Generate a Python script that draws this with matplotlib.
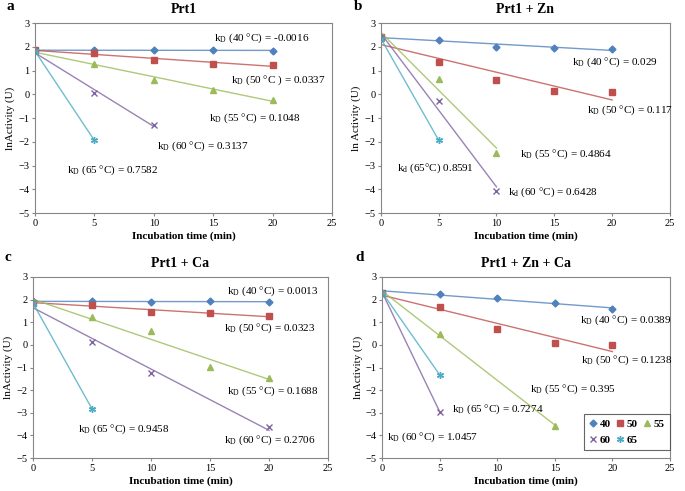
import numpy as np
import matplotlib.pyplot as plt

plt.rcParams['font.family'] = ['Liberation Serif', 'DejaVu Serif']
plt.rcParams['mathtext.fontset'] = 'custom'
plt.rcParams['mathtext.rm'] = 'Liberation Serif'
plt.rcParams['mathtext.it'] = 'Liberation Serif:italic'

temps = ['40', '50', '55', '60', '65']
colors = ['#4F81BD', '#C0504D', '#9BBB59', '#8064A2', '#4BACC6']
markers = ['D', 's', '^', 'x', (6, 2, 0)]
msizes = [3.5, 5, 4.5, 5, 5]

# panel a: Prt1
a_x = [[0, 5, 10, 15, 20], [0, 5, 10, 15, 20], [0, 5, 10, 15, 20], [0, 5, 10], [0, 5]]
a_y = [[1.85, 1.86, 1.86, 1.86, 1.84],
       [1.85, 1.75, 1.45, 1.27, 1.25],
       [1.82, 1.28, 0.62, 0.19, -0.22],
       [1.82, 0.05, -1.28],
       [1.82, -1.94]]
a_txt = ['k$_\\mathrm{D}$ (40 °C) = -0.0016', 'k$_\\mathrm{D}$ (50 °C ) = 0.0337',
         'k$_\\mathrm{D}$ (55 °C) = 0.1048', 'k$_\\mathrm{D}$ (60 °C) = 0.3137',
         'k$_\\mathrm{D}$ (65 °C) = 0.7582']
a_pos = [(15.1, 2.38), (16.5, 0.58), (14.6, -0.99), (10.3, -2.2), (2.7, -3.18)]

# panel b: Prt1 + Zn
b_x = [[0, 5, 10, 15, 20], [0, 5, 10, 15, 20], [0, 5, 10], [0, 5, 10], [0, 5]]
b_y = [[2.41, 2.30, 2.01, 1.97, 1.90],
       [2.41, 1.37, 0.61, 0.16, 0.10],
       [2.38, 0.63, -2.49],
       [2.38, -0.30, -4.08],
       [2.35, -1.93]]
b_txt = ['k$_\\mathrm{D}$ (40 °C) = 0.029', 'k$_\\mathrm{D}$ (50 °C) = 0.117',
         'k$_\\mathrm{D}$ (55 °C) = 0.4864', 'k$_\\mathrm{d}$ (60 °C) = 0.6428',
         'k$_\\mathrm{d}$ (65°C) 0.8591']
b_pos = [(16.5, 1.37), (17.8, -0.66), (12.0, -2.52), (11.0, -4.11), (1.36, -3.13)]

# panel c: Prt1 + Ca
c_x = [[0, 5, 10, 15, 20], [0, 5, 10, 15, 20], [0, 5, 10, 15, 20], [0, 5, 10, 20], [0, 5]]
c_y = [[1.92, 1.92, 1.91, 1.92, 1.90],
       [1.87, 1.78, 1.44, 1.40, 1.28],
       [1.85, 1.21, 0.62, -0.98, -1.48],
       [1.85, 0.14, -1.26, -3.64],
       [1.85, -2.82]]
c_txt = ['k$_\\mathrm{D}$ (40 °C) = 0.0013', 'k$_\\mathrm{D}$ (50 °C) = 0.0323',
         'k$_\\mathrm{D}$ (55 °C) = 0.1688', 'k$_\\mathrm{D}$ (60 °C) = 0.2706',
         'k$_\\mathrm{D}$ (65 °C) = 0.9458']
c_pos = [(16.4, 2.37), (16.2, 0.72), (16.4, -2.07), (16.2, -4.2), (3.8, -3.73)]

# panel d: Prt1 + Zn + Ca
d_x = [[0, 5, 10, 15, 20], [0, 5, 10, 15, 20], [0, 5, 15], [0, 5], [0, 5]]
d_y = [[2.31, 2.26, 2.07, 1.83, 1.58],
       [2.31, 1.65, 0.71, 0.09, -0.02],
       [2.31, 0.50, -3.57],
       [2.31, -2.96],
       [2.31, -1.33]]
d_txt = ['k$_\\mathrm{D}$ (40 °C) = 0.0389', 'k$_\\mathrm{D}$ (50 °C) = 0.1238',
         'k$_\\mathrm{D}$ (55 °C) = 0.395', 'k$_\\mathrm{D}$ (60 °C) = 1.0457',
         'k$_\\mathrm{D}$ (65 °C) = 0.7274']
d_pos = [(17.2, 1.08), (17.3, -0.68), (12.8, -1.97), (0.43, -4.08), (6.07, -2.86)]

panels = [
    ('a', 'Prt1', 'lnActivity (U)', a_x, a_y, a_txt, a_pos, [0.051, 0.566, 0.434, 0.387], 1.055),
    ('b', 'Prt1 + Zn', 'ln Activity (U)', b_x, b_y, b_txt, b_pos, [0.556, 0.566, 0.422, 0.387], 1.055),
    ('c', 'Prt1 + Ca', 'lnActivity (U)', c_x, c_y, c_txt, c_pos, [0.048, 0.067, 0.431, 0.369], 1.07),
    ('d', 'Prt1 + Zn + Ca', 'lnActivity (U)', d_x, d_y, d_txt, d_pos, [0.558, 0.067, 0.420, 0.369], 1.07),
]

fig = plt.figure(figsize=(6.85, 4.91), dpi=100)

for letter, title, ylab, xs, ys, txts, pos, rect, ly in panels:
    ax = fig.add_axes(rect)
    handles = []
    for i in range(5):
        x = np.array(xs[i], dtype=float)
        y = np.array(ys[i], dtype=float)
        # linear trend line like excel
        k, b = np.polyfit(x, y, 1)
        xx = np.array([0, x.max()])
        ax.plot(xx, k * xx + b, color=colors[i], lw=1.0, alpha=0.8)
        h, = ax.plot(x, y, ls='none', marker=markers[i], ms=msizes[i], color=colors[i],
                     mew=1.0, label=temps[i])
        handles.append(h)
        ax.text(pos[i][0], pos[i][1], txts[i], fontsize=8, ha='left', va='center')
    ax.set_xlim(0, 25)
    ax.set_ylim(-5, 3)
    ax.set_xticks([0, 5, 10, 15, 20, 25])
    ax.set_yticks(range(-5, 4))
    ax.tick_params(labelsize=7.5, length=2, color='#868686', pad=2)
    for s in ax.spines.values():
        s.set_color('#868686')
        s.set_linewidth(0.8)
    ax.set_title(title, fontsize=10, fontweight='bold', pad=7)
    ax.set_xlabel('Incubation time (min)', fontsize=8, fontweight='bold', labelpad=3)
    ax.set_ylabel(ylab, fontsize=8, labelpad=2)
    ax.text(-0.095, ly, letter, transform=ax.transAxes, fontsize=11, fontweight='bold',
            ha='left', va='bottom')
    if letter == 'd':
        order = [0, 3, 1, 4, 2]
        leg = ax.legend([handles[j] for j in order], [temps[j] for j in order], ncol=3,
                        loc='lower right', bbox_to_anchor=(1.0, 0.045),
                        prop={'weight': 'bold', 'size': 8}, handlelength=0.7,
                        handletextpad=0.25, columnspacing=0.5, fancybox=False,
                        edgecolor='#404040', borderpad=0.45, labelspacing=0.6,
                        borderaxespad=0.0)
        leg.get_frame().set_linewidth(0.8)

fig.savefig('out.png', dpi=100)
